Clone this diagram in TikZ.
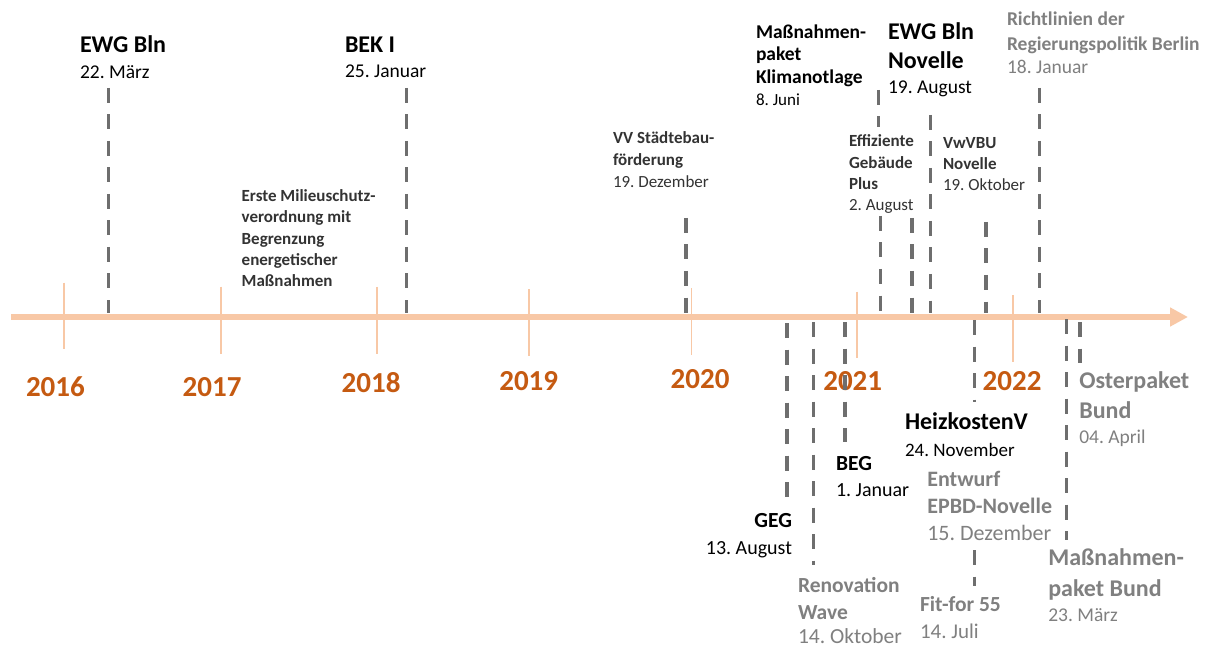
\documentclass[tikz,border=0pt]{standalone}
\usepackage{fontspec}
\setmainfont{Carlito}
\usetikzlibrary{arrows.meta}
\definecolor{peach}{HTML}{F8C8A6}
\definecolor{yearc}{HTML}{C55A11}
\definecolor{dashc}{HTML}{6E6E6E}
\definecolor{greyt}{HTML}{808080}
\definecolor{darkt}{HTML}{333333}
\frenchspacing
\begin{document}
\begin{tikzpicture}[x=1pt,y=-1pt,
  every node/.style={inner sep=0pt, outer sep=0pt, anchor=base west},
  axisline/.style={draw=peach, line width=6.5pt, -{Triangle[length=18pt,width=18pt]}},
  ytick/.style={draw=peach, line width=1.8pt},
  yr/.style={font=\bfseries\fontsize{29}{29}\selectfont, text=yearc},
  lead/.style={draw=dashc, line width=3.6pt, dash pattern=on 15pt off 11.5pt},
  tb/.style={font=\bfseries\fontsize{#1}{#1}\selectfont},
  tr/.style={font=\fontsize{#1}{#1}\selectfont},
  gb/.style={font=\bfseries\fontsize{#1}{#1}\selectfont, text=greyt},
  gr/.style={font=\fontsize{#1}{#1}\selectfont, text=greyt},
  db/.style={font=\bfseries\fontsize{#1}{#1}\selectfont, text=darkt},
  dr/.style={font=\fontsize{#1}{#1}\selectfont, text=darkt},
]
\useasboundingbox (0,0) rectangle (1216,647);
\fill[white] (0,0) rectangle (1216,647);

% axis
\coordinate (axS) at (11,317);
\coordinate (axE) at (1188,317);
\draw[axisline] (axS) -- (axE);

% year ticks
\draw[ytick] (64,282.7) -- (64,349.3);
\draw[ytick] (221,286.7) -- (221,354);
\draw[ytick] (376.7,287) -- (376.7,354);
\draw[ytick] (529,289.3) -- (529,356);
\draw[ytick] (691.5,288.3) -- (691.5,355);
\draw[ytick] (856.7,291.7) -- (856.7,358.3);
\draw[ytick] (1013.3,295) -- (1013.3,361.7);

% years
\node[yr] (y16) at (26,396) {2016};
\node[yr] (y17) at (182.7,396) {2017};
\node[yr] (y18) at (341.7,392.7) {2018};
\node[yr] (y19) at (499.3,390) {2019};
\node[yr] (y20) at (670.7,388.3) {2020};
\node[yr] (y21) at (823.3,390) {2021};
\node[yr] (y22) at (982.7,390) {2022};

% ---------- above axis ----------
\node[tb=24] (ewgA) at (80,52.7) {EWG Bln};
\node[tr=19.5] (ewgB) at (80,78.3) {22. März};
\coordinate (ewgT) at (108.3,88); \coordinate (ewgX) at (108.3,313);
\draw[lead] (ewgT) -- (ewgX);

\node[tb=24] (bekA) at (345,53) {BEK I};
\node[tr=19.5] (bekB) at (345,78) {25. Januar};
\coordinate (bekT) at (406.5,88); \coordinate (bekX) at (406.5,313);
\draw[lead] (bekT) -- (bekX);

\node[db=17] (milA) at (241.7,201.7) {Erste Milieuschutz-};
\node[db=17] (milB) at (241.7,222.9) {verordnung mit};
\node[db=17] (milC) at (241.7,244.1) {Begrenzung};
\node[db=17] (milD) at (241.7,265.3) {energetischer};
\node[db=17] (milE) at (241.7,286.5) {Maßnahmen};

\node[db=17] (vvA) at (613,144) {VV Städtebau-};
\node[db=17] (vvB) at (613,166) {förderung};
\node[dr=17] (vvC) at (613,188) {19. Dezember};
\coordinate (vvT) at (686,218); \coordinate (vvX) at (686,313);
\draw[lead] (vvT) -- (vvX);

\node[tb=19.5] (mkA) at (756,38.5) {Maßnahmen-};
\node[tb=19.5] (mkB) at (756,61) {paket};
\node[tb=19.5] (mkC) at (756,83.5) {Klimanotlage};
\node[tr=17] (mkD) at (756,106) {8. Juni};
\coordinate (mkT) at (878.5,90); \coordinate (mkM) at (878.5,127);
\draw[lead] (mkT) -- (mkM);
\coordinate (mkN) at (880.5,216); \coordinate (mkX) at (880.5,313);
\draw[lead] (mkN) -- (mkX);

\node[tb=24] (enA) at (888,39.3) {EWG Bln};
\node[tb=24] (enB) at (888,68.3) {Novelle};
\node[tr=19.5] (enC) at (888,93.5) {19. August};
\coordinate (enT) at (930.5,115); \coordinate (enX) at (930.5,313);
\draw[lead] (enT) -- (enX);

\node[db=17] (egA) at (849,146.7) {Effiziente};
\node[db=17] (egB) at (849,168.3) {Gebäude};
\node[db=17] (egC) at (849,190) {Plus};
\node[dr=17] (egD) at (849,211) {2. August};
\coordinate (egT) at (911.7,218); \coordinate (egX) at (911.7,313);
\draw[lead] (egT) -- (egX);

\node[db=17] (vwA) at (943,148.3) {VwVBU};
\node[db=17] (vwB) at (943,170) {Novelle};
\node[dr=17] (vwC) at (943,190.5) {19. Oktober};
\coordinate (vwT) at (986,222); \coordinate (vwX) at (986,313);
\draw[lead] (vwT) -- (vwX);

\node[gb=19.5] (rlA) at (1007,26) {Richtlinien der};
\node[gb=19.5] (rlB) at (1007,50.5) {Regierungspolitik Berlin};
\node[gr=19.5] (rlC) at (1007,74) {18. Januar};
\coordinate (rlT) at (1039.3,88); \coordinate (rlX) at (1039.3,313);
\draw[lead] (rlT) -- (rlX);

% ---------- below axis ----------
\node[tb=21.5, anchor=base east] (gegA) at (792,527) {GEG};
\node[tr=20, anchor=base east] (gegB) at (792,554) {13. August};
\coordinate (gegT) at (787,323); \coordinate (gegX) at (787,498);
\draw[lead] (gegT) -- (gegX);

\node[gb=21.5] (rwA) at (798,592.7) {Renovation};
\node[gb=21.5] (rwB) at (798,619.3) {Wave};
\node[gr=21.5] (rwC) at (798,643.5) {14. Oktober};
\coordinate (rwT) at (813.3,322); \coordinate (rwX) at (813.3,565);
\draw[lead] (rwT) -- (rwX);

\node[tb=21.5] (begA) at (836,470) {BEG};
\node[tr=20] (begB) at (836,496.7) {1. Januar};
\coordinate (begT) at (845,322); \coordinate (begX) at (845,442);
\draw[lead] (begT) -- (begX);

\node[tb=24] (hkA) at (905,429.3) {HeizkostenV};
\node[tr=19] (hkB) at (905,456) {24. November};
\coordinate (hkT) at (974.3,320); \coordinate (hkX) at (974.3,402);
\draw[lead] (hkT) -- (hkX);

\node[gb=22] (epA) at (927.3,486.7) {Entwurf};
\node[gb=22] (epB) at (927.3,513.3) {EPBD-Novelle};
\node[gr=22] (epC) at (927.3,540) {15. Dezember};

\node[gb=21.5] (ffA) at (920,611.7) {Fit-for 55};
\node[gr=21] (ffB) at (920,638.3) {14. Juli};
\coordinate (ffT) at (974.3,550); \coordinate (ffX) at (974.3,586);
\draw[lead] (ffT) -- (ffX);

\node[gb=24] (mbA) at (1048.3,565) {Maßnahmen-};
\node[gb=24] (mbB) at (1048.3,596) {paket Bund};
\node[gr=19.5] (mbC) at (1048.3,621.7) {23. März};
\coordinate (mbT) at (1066.5,319); \coordinate (mbX) at (1066.5,540);
\draw[lead] (mbT) -- (mbX);

\node[gb=24] (opA) at (1079.3,388.3) {Osterpaket};
\node[gb=24] (opB) at (1079.3,418.3) {Bund};
\node[gr=19.5] (opC) at (1079.3,443.3) {04. April};
\coordinate (opT) at (1080,322); \coordinate (opX) at (1080,363);
\draw[lead] (opT) -- (opX);
\end{tikzpicture}
\end{document}
